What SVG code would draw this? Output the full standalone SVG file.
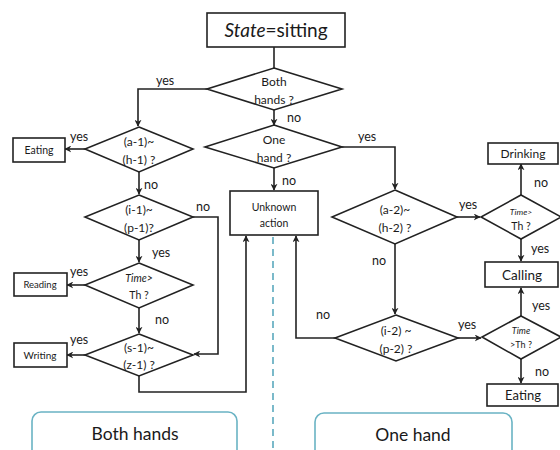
<svg xmlns="http://www.w3.org/2000/svg" width="560" height="450" viewBox="0 0 560 450">
  <defs>
    <marker id="arr" viewBox="0 0 10 10" refX="9" refY="5" markerWidth="7" markerHeight="7" orient="auto" markerUnits="userSpaceOnUse">
      <path d="M0,0 L10,5 L0,10 L3,5 Z" fill="#222"/>
    </marker>
    <style>
      .shape { fill: #fff; stroke: #222; stroke-width: 1.6; }
      .line { fill: none; stroke: #222; stroke-width: 1.6; }
      .t { font-family: Lato, "Open Sans", sans-serif; fill: #1a1a1a; text-anchor: middle; }
      .lab { font-family: Lato, "Open Sans", sans-serif; fill: #1a1a1a; font-size: 12.5px; }
      .n { font-size: 12px; }
      .s { font-size: 10.5px; }
      .panel { fill: #fff; stroke: #6ab3c4; stroke-width: 1.6; }
    </style>
  </defs>
  <rect width="560" height="450" fill="#fff"/>

  <!-- divider between the two panels -->
  <line x1="273" y1="237" x2="273" y2="450" stroke="#5aa9bd" stroke-width="1.6" stroke-dasharray="7,5"/>

  <!-- connectors -->
  <g id="connectors">
    <line class="line" x1="274" y1="47" x2="274" y2="68"/>
    <polyline class="line" points="207,89 138,89 138,126" marker-end="url(#arr)"/>
    <line class="line" x1="274" y1="110" x2="274" y2="125" marker-end="url(#arr)"/>
    <line class="line" x1="274" y1="168" x2="274" y2="190" marker-end="url(#arr)"/>
    <polyline class="line" points="342,147 395,147 395,189" marker-end="url(#arr)"/>
    <line class="line" x1="85" y1="149" x2="65" y2="149" marker-end="url(#arr)"/>
    <line class="line" x1="139" y1="172" x2="139" y2="194" marker-end="url(#arr)"/>
    <polyline class="line" points="193,217 218,217 218,354 194,354" marker-end="url(#arr)"/>
    <line class="line" x1="139" y1="240" x2="139" y2="262" marker-end="url(#arr)"/>
    <line class="line" x1="85" y1="285" x2="67" y2="285" marker-end="url(#arr)"/>
    <line class="line" x1="139" y1="308" x2="139" y2="333" marker-end="url(#arr)"/>
    <line class="line" x1="85" y1="355" x2="67" y2="355" marker-end="url(#arr)"/>
    <polyline class="line" points="139,376 139,392 246,392 246,236" marker-end="url(#arr)"/>
    <polyline class="line" points="335,338 296,338 296,236" marker-end="url(#arr)"/>
    <line class="line" x1="395" y1="244" x2="395" y2="314" marker-end="url(#arr)"/>
    <line class="line" x1="457" y1="217" x2="480" y2="217" marker-end="url(#arr)"/>
    <line class="line" x1="458" y1="338" x2="481" y2="338" marker-end="url(#arr)"/>
    <line class="line" x1="521" y1="195" x2="521" y2="164" marker-end="url(#arr)"/>
    <line class="line" x1="521" y1="239" x2="521" y2="261" marker-end="url(#arr)"/>
    <line class="line" x1="521" y1="316" x2="521" y2="288" marker-end="url(#arr)"/>
    <line class="line" x1="521" y1="359" x2="521" y2="383" marker-end="url(#arr)"/>
  </g>

  <!-- connector labels -->
  <g id="labels">
    <text class="lab" x="156" y="85">yes</text>
    <text class="lab" x="287" y="122">no</text>
    <text class="lab" x="358" y="141">yes</text>
    <text class="lab" x="282" y="185">no</text>
    <text class="lab" x="70" y="141">yes</text>
    <text class="lab" x="144" y="189">no</text>
    <text class="lab" x="196" y="211">no</text>
    <text class="lab" x="152" y="257">yes</text>
    <text class="lab" x="70" y="276">yes</text>
    <text class="lab" x="155" y="324">no</text>
    <text class="lab" x="70" y="344">yes</text>
    <text class="lab" x="372" y="265">no</text>
    <text class="lab" x="316" y="319">no</text>
    <text class="lab" x="459" y="209">yes</text>
    <text class="lab" x="458" y="329">yes</text>
    <text class="lab" x="534" y="187">no</text>
    <text class="lab" x="531" y="253">yes</text>
    <text class="lab" x="532" y="310">yes</text>
    <text class="lab" x="535" y="376">no</text>
  </g>

  <g id="start">
    <rect class="shape" x="207" y="13" width="138" height="34"/>
    <text class="t" x="276" y="37" font-size="19"><tspan font-style="italic">State</tspan>=sitting</text>
  </g>

  <g id="both-hands">
    <polygon class="shape" points="274,68 342,89 274,110 207,89"/>
    <text class="t n" x="274" y="86">Both</text>
    <text class="t n" x="274" y="104">hands ?</text>
  </g>

  <g id="one-hand">
    <polygon class="shape" points="274,125 342,147 274,168 205,147"/>
    <text class="t n" x="274" y="144">One</text>
    <text class="t n" x="274" y="162">hand ?</text>
  </g>

  <g id="unknown">
    <rect class="shape" x="230" y="191" width="88" height="44"/>
    <text class="t s" x="274" y="211">Unknown</text>
    <text class="t s" x="274" y="227">action</text>
  </g>

  <g id="d-a1">
    <polygon class="shape" points="139,127 193,149 139,172 85,149"/>
    <text class="t n" x="139" y="146">(a-1)~</text>
    <text class="t n" x="139" y="164">(h-1) ?</text>
  </g>

  <g id="eating-left">
    <rect class="shape" x="13" y="138" width="52" height="24"/>
    <text class="t s" x="39" y="154">Eating</text>
  </g>

  <g id="d-i1">
    <polygon class="shape" points="139,195 193,217 139,240 85,217"/>
    <text class="t n" x="139" y="214">(i-1)~</text>
    <text class="t n" x="139" y="232">(p-1)?</text>
  </g>

  <g id="d-time-left">
    <polygon class="shape" points="139,263 193,285 139,308 85,285"/>
    <text class="t s" x="139" y="282" font-style="italic">Time&gt;</text>
    <text class="t s" x="139" y="299">Th ?</text>
  </g>

  <g id="reading">
    <rect class="shape" x="14" y="273" width="53" height="23"/>
    <text class="t" x="40" y="288" font-size="9.5">Reading</text>
  </g>

  <g id="d-s1">
    <polygon class="shape" points="139,334 193,355 139,376 85,355"/>
    <text class="t n" x="139" y="352">(s-1)~</text>
    <text class="t n" x="139" y="369">(z-1) ?</text>
  </g>

  <g id="writing">
    <rect class="shape" x="14" y="343" width="53" height="24"/>
    <text class="t" x="40" y="359" font-size="10">Writing</text>
  </g>

  <g id="d-a2">
    <polygon class="shape" points="395,190 457,217 395,244 332,217"/>
    <text class="t n" x="395" y="214">(a-2)~</text>
    <text class="t n" x="395" y="232">(h-2) ?</text>
  </g>

  <g id="d-i2">
    <polygon class="shape" points="396,315 458,338 396,361 335,338"/>
    <text class="t n" x="396" y="335">(i-2) ~</text>
    <text class="t n" x="396" y="353">(p-2) ?</text>
  </g>

  <g id="d-time-upper">
    <polygon class="shape" points="521,195 561,217 521,239 481,217"/>
    <text class="t" x="521" y="215" font-size="8.5" font-style="italic">Time&gt;</text>
    <text class="t s" x="521" y="230">Th ?</text>
  </g>

  <g id="drinking">
    <rect class="shape" x="488" y="143" width="70" height="21"/>
    <text class="t n" x="523" y="158">Drinking</text>
  </g>

  <g id="calling">
    <rect class="shape" x="485" y="262" width="73" height="25"/>
    <text class="t" x="522" y="280" font-size="13.5">Calling</text>
  </g>

  <g id="d-time-lower">
    <polygon class="shape" points="521,316 561,337 521,359 482,337"/>
    <text class="t" x="521" y="334" font-size="9" font-style="italic">Time</text>
    <text class="t" x="521" y="348" font-size="9">&gt;Th ?</text>
  </g>

  <g id="eating-right">
    <rect class="shape" x="487" y="384" width="71" height="22"/>
    <text class="t" x="523" y="400" font-size="13">Eating</text>
  </g>

  <g id="panel-both">
    <rect class="panel" x="32" y="412" width="205" height="50" rx="9"/>
    <text class="t" x="135" y="440" font-size="17.5">Both hands</text>
  </g>

  <g id="panel-one">
    <rect class="panel" x="315" y="413" width="197" height="50" rx="9"/>
    <text class="t" x="413" y="441" font-size="17.5">One hand</text>
  </g>
</svg>
